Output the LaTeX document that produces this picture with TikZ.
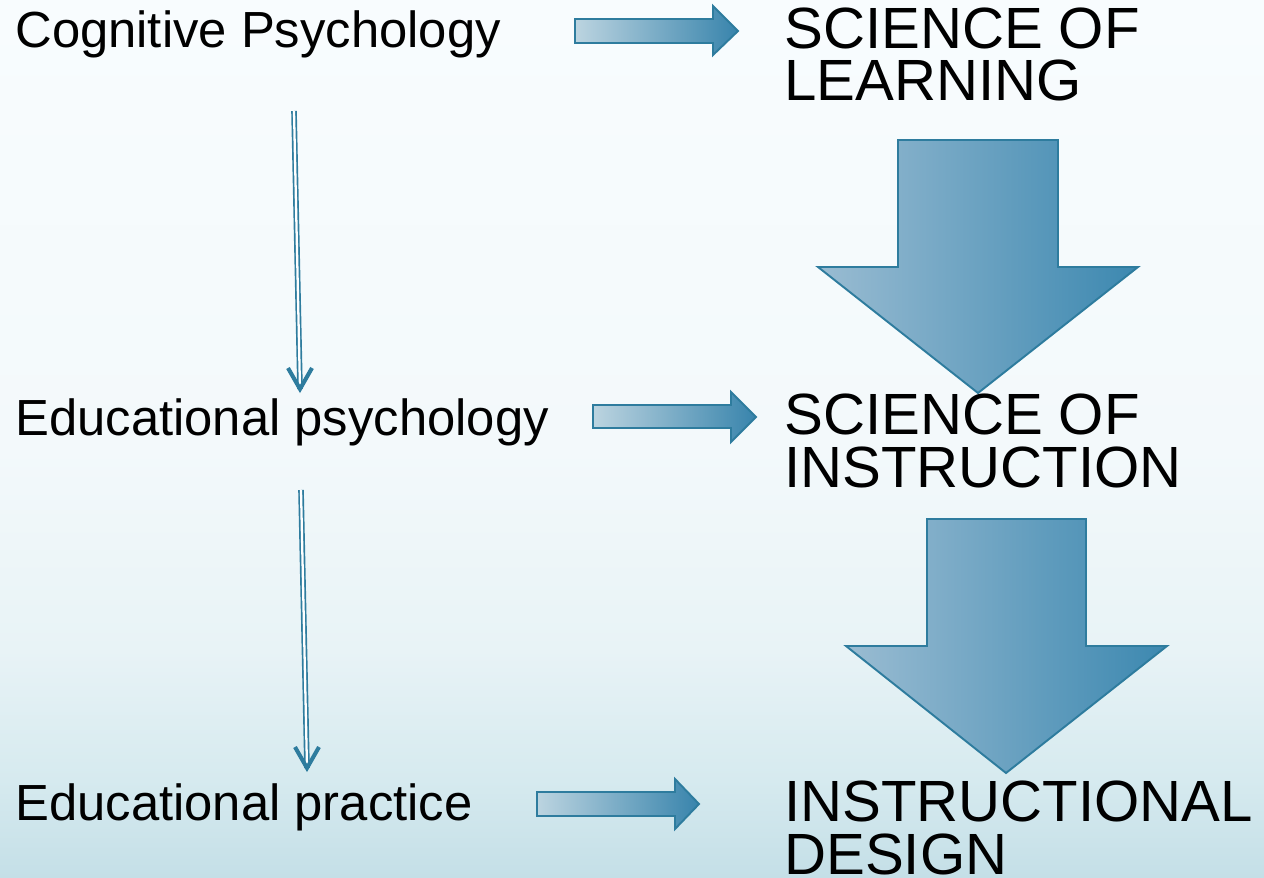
\documentclass[tikz,border=0pt]{standalone}
\usepackage{fontspec}
\setmainfont{Liberation Sans}
\usetikzlibrary{arrows.meta}
\definecolor{arrowEdge}{RGB}{46, 124, 158}
\definecolor{flatLight}{RGB}{188, 212, 224}
\definecolor{flatDark}{RGB}{56, 132, 172}
\definecolor{bigLight}{RGB}{154, 188, 210}
\definecolor{bigDark}{RGB}{60, 136, 176}
\definecolor{bgTop}{RGB}{248, 252, 254}
\definecolor{bgUpper}{RGB}{243, 249, 251}
\definecolor{bgMid}{RGB}{232, 243, 246}
\definecolor{bgLow}{RGB}{214, 234, 239}
\definecolor{bgBottom}{RGB}{196, 223, 231}
\pgfdeclareverticalshading{slidebg}{100bp}{
  color(0bp)=(bgBottom); color(25bp)=(bgBottom); color(30.6bp)=(bgLow);
  color(38bp)=(bgMid); color(49.4bp)=(bgUpper); color(75bp)=(bgTop);
  color(100bp)=(bgTop)}

\begin{document}
\begin{tikzpicture}[
  x=0.02cm, y=-0.02cm,
  leftlabel/.style={
    inner sep=0pt,
    anchor=base west,
    font=\fontsize{28.9pt}{34pt}\selectfont
  },
  rightlabel/.style={
    inner sep=0pt,
    anchor=base west,
    align=left,
    font=\fontsize{33.1pt}{30pt}\selectfont
  },
  flatarrow/.style={draw=arrowEdge,line width=1.1pt,left color=flatLight,right color=flatDark},
  bigarrow/.style={draw=arrowEdge,line width=1.1pt,left color=bigLight,right color=bigDark},
  link/.style={draw=arrowEdge,line width=0.95pt,double=white,double distance=1.3pt},
  linkhead/.style={draw=arrowEdge,line width=2.3pt,line join=miter}
]
  % slide background
  \useasboundingbox (0,0) rectangle (1264,878);
  \shade[shading=slidebg] (0,0) rectangle (1264,878);

  % block arrows between the two columns
  \draw[flatarrow] (575,19) -- (713,19) -- (713,6) -- (738,31)
    -- (713,55) -- (713,43) -- (575,43) -- cycle;
  \draw[flatarrow] (593,405) -- (731,405) -- (731,392) -- (756,417)
    -- (731,442) -- (731,428) -- (593,428) -- cycle;
  \draw[flatarrow] (537,792) -- (675,792) -- (675,779) -- (699,804)
    -- (675,829) -- (675,816) -- (537,816) -- cycle;

  % big arrows down the right column
  \draw[bigarrow] (898,140) -- (1058,140) -- (1058,267) -- (1138,267)
    -- (978,393) -- (818,267) -- (898,267) -- cycle;
  \draw[bigarrow] (927,519) -- (1086,519) -- (1086,646) -- (1167,646)
    -- (1006,773) -- (846,646) -- (927,646) -- cycle;

  % left column
  \node[leftlabel] (cogn) at (15,48) {Cognitive Psychology};
  \node[leftlabel] (edpsy) at (15,435) {Educational psychology};
  \node[leftlabel] (edprac) at (15,820) {Educational practice};

  % right column (anchored on the last line)
  \node[rightlabel] (learning) at (784,101) {SCIENCE OF\\LEARNING};
  \node[rightlabel] (instruction) at (784,487) {SCIENCE OF\\INSTRUCTION};
  \node[rightlabel] (design) at (784,874) {INSTRUCTIONAL\\DESIGN};

  % thin double links on the left
  \coordinate (cognOut) at (294,111);
  \coordinate (edpsyIn) at (300,389);
  \coordinate (edpsyOut) at (301,490);
  \coordinate (edpracIn) at (307,768);
  \draw[link] (cognOut) -- (edpsyIn);
  \draw[linkhead] ([shift={(-12,-21)}]edpsyIn) -- (edpsyIn) -- ([shift={(12,-21)}]edpsyIn);
  \draw[link] (edpsyOut) -- (edpracIn);
  \draw[linkhead] ([shift={(-12,-21)}]edpracIn) -- (edpracIn) -- ([shift={(12,-21)}]edpracIn);
\end{tikzpicture}
\end{document}
